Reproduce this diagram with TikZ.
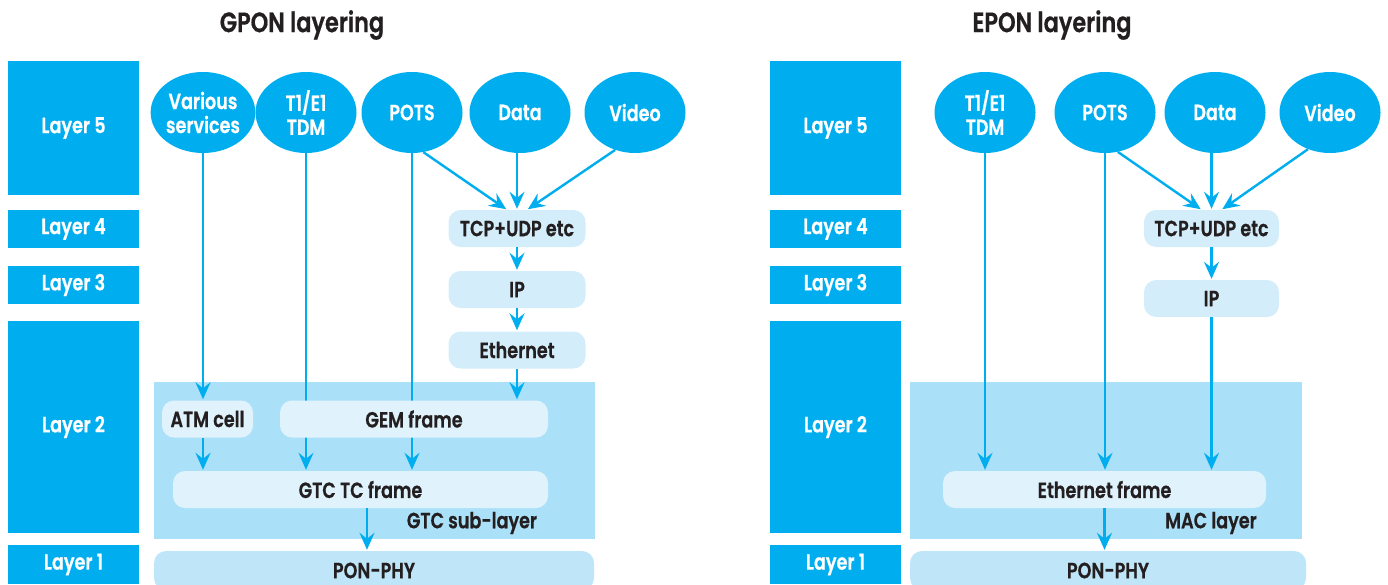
\documentclass[tikz,border=0pt]{standalone}
\usepackage{fontspec}
\newfontfamily\lbl{Poppins SemiBold}[FakeStretch=0.8, FakeBold=0.6]
\usetikzlibrary{shapes.geometric,arrows.meta}
\definecolor{cyanA}{HTML}{00AEEF}
\definecolor{ink}{HTML}{231F20}
\definecolor{protofill}{HTML}{D4EDFA}
\definecolor{framefill}{HTML}{E0F3FC}
\definecolor{subfill}{HTML}{ABE0F9}
\definecolor{phyfill}{HTML}{BEE6F8}
\pgfdeclarelayer{back}
\pgfdeclarelayer{mid}
\pgfsetlayers{back,mid,main}
\tikzset{
  txt/.style={font=\lbl\fontsize{22}{24}\selectfont},
  layerbox/.style={txt, fill=cyanA, text=white, inner sep=0pt, minimum width=131pt},
  svc/.style={txt, ellipse, fill=cyanA, text=white, inner sep=0pt, align=center,
    minimum width=101pt, minimum height=81pt},
  proto/.style={txt, rounded corners=12pt, fill=protofill, text=ink, inner sep=0pt,
    minimum height=37pt},
  framebox/.style={proto, fill=framefill},
  phybox/.style={proto, fill=phyfill, minimum height=39pt},
  subbg/.style={fill=subfill, inner sep=0pt, minimum height=157pt},
  sublabel/.style={txt, text=ink, inner sep=0pt},
  title/.style={font=\lbl\fontsize{28}{30}\selectfont, text=ink, inner sep=0pt},
  arr/.style={draw=cyanA, line width=2.4pt, shorten >=1pt,
    -{Stealth[length=17pt,width=15pt,inset=6pt]}},
}
\begin{document}
\begin{tikzpicture}[x=1pt,y=-1pt]
\useasboundingbox (0,0) rectangle (1388,584);

% ---------------- GPON ----------------
\node[title] (gtitle) at (302,25) {GPON layering};

\node[layerbox, minimum height=134pt] (gl5) at (73.5,128) {Layer 5};
\node[layerbox, minimum height=38pt]  (gl4) at (73.5,229) {Layer 4};
\node[layerbox, minimum height=38pt]  (gl3) at (73.5,285) {Layer 3};
\node[layerbox, minimum height=212pt] (gl2) at (73.5,427) {Layer 2};
\node[layerbox, minimum height=39pt]  (gl1) at (73.5,564.5) {Layer 1};

\node[svc] (gvar)  at (203,112.5) {Various\\services};
\node[svc] (gt1)   at (306,112.5) {T1/E1\\TDM};
\node[svc] (gpots) at (412,112.5) {POTS};
\node[svc] (gdata) at (520,112.5) {Data};
\node[svc] (gvid)  at (635,112.5) {Video};

\node[proto, minimum width=137pt] (gtcp) at (517,228.5) {TCP+UDP etc};
\node[proto, minimum width=137pt] (gip)  at (517,289.5) {IP};
\node[proto, minimum width=137pt] (geth) at (517,350)   {Ethernet};

\begin{pgfonlayer}{back}
  \node[subbg, minimum width=441pt] (gsub) at (374.5,460.5) {};
\end{pgfonlayer}
\node[framebox, minimum width=91pt]  (gatm) at (207.5,419) {ATM cell};
\node[framebox, minimum width=268pt] (ggem) at (414,419)   {GEM frame};
\node[framebox, minimum width=375pt] (ggtc) at (360.5,489.5) {GTC TC frame};
\node[sublabel] (gsubl) at (472,523) {GTC sub-layer};
\node[phybox, minimum width=440pt] (gpon) at (374,570.5) {PON-PHY};

\begin{pgfonlayer}{mid}
  \draw[arr] (gvar.south) -- (gvar.south |- gatm.north);
  \draw[arr] (gt1.south) -- (gt1.south |- ggtc.north);
  \draw[arr] (gpots.south) -- (gpots.south |- ggtc.north);
\end{pgfonlayer}
\draw[arr] (gpots.-74) -- ([xshift=-10pt]gtcp.north);
\draw[arr] (gtcp.north |- gdata.south) -- (gtcp.north);
\draw[arr] (gvid.-118) -- ([xshift=10pt]gtcp.north);
\draw[arr] (gtcp.south) -- (gip.north);
\draw[arr] (gip.south) -- (geth.north);
\draw[arr] (geth.south) -- (geth.south |- ggem.north);
\draw[arr] (gvar.south |- gatm.south) -- (gvar.south |- ggtc.north);
\draw[arr] ([xshift=6.5pt]ggtc.south) -- ([xshift=6.5pt]ggtc.south |- gpon.north);

% ---------------- EPON ----------------
\node[title] (etitle) at (1052,25) {EPON layering};

\node[layerbox, minimum height=134pt] (el5) at (835.5,128) {Layer 5};
\node[layerbox, minimum height=38pt]  (el4) at (835.5,229) {Layer 4};
\node[layerbox, minimum height=38pt]  (el3) at (835.5,285) {Layer 3};
\node[layerbox, minimum height=212pt] (el2) at (835.5,427) {Layer 2};
\node[layerbox, minimum height=39pt]  (el1) at (835.5,564.5) {Layer 1};

\node[svc] (et1)   at (985,112.5)  {T1/E1\\TDM};
\node[svc] (epots) at (1105,112.5) {POTS};
\node[svc] (edata) at (1215,112.5) {Data};
\node[svc] (evid)  at (1330,112.5) {Video};

\node[proto, minimum width=135pt] (etcp) at (1211.5,228.5) {TCP+UDP etc};
\node[proto, minimum width=135pt] (eip)  at (1211.5,298.5) {IP};

\begin{pgfonlayer}{back}
  \node[subbg, minimum width=392pt] (esub) at (1106,460.5) {};
\end{pgfonlayer}
\node[framebox, minimum width=323pt] (eeth) at (1104.5,489.5) {Ethernet frame};
\node[sublabel] (esubl) at (1211,523) {MAC layer};
\node[phybox, minimum width=396pt] (epon) at (1108,570.5) {PON-PHY};

\draw[arr] (et1.south) -- (et1.south |- eeth.north);
\draw[arr] (epots.south) -- (epots.south |- eeth.north);
\draw[arr] (epots.-72) -- ([xshift=-10pt]etcp.north);
\draw[arr] (etcp.north |- edata.south) -- (etcp.north);
\draw[arr] (evid.-121) -- ([xshift=10pt]etcp.north);
\draw[arr] (etcp.south) -- (eip.north);
\draw[arr] (eip.south) -- (eip.south |- eeth.north);
\draw[arr] (eeth.south) -- (eeth.south |- epon.north);
\end{tikzpicture}
\end{document}
